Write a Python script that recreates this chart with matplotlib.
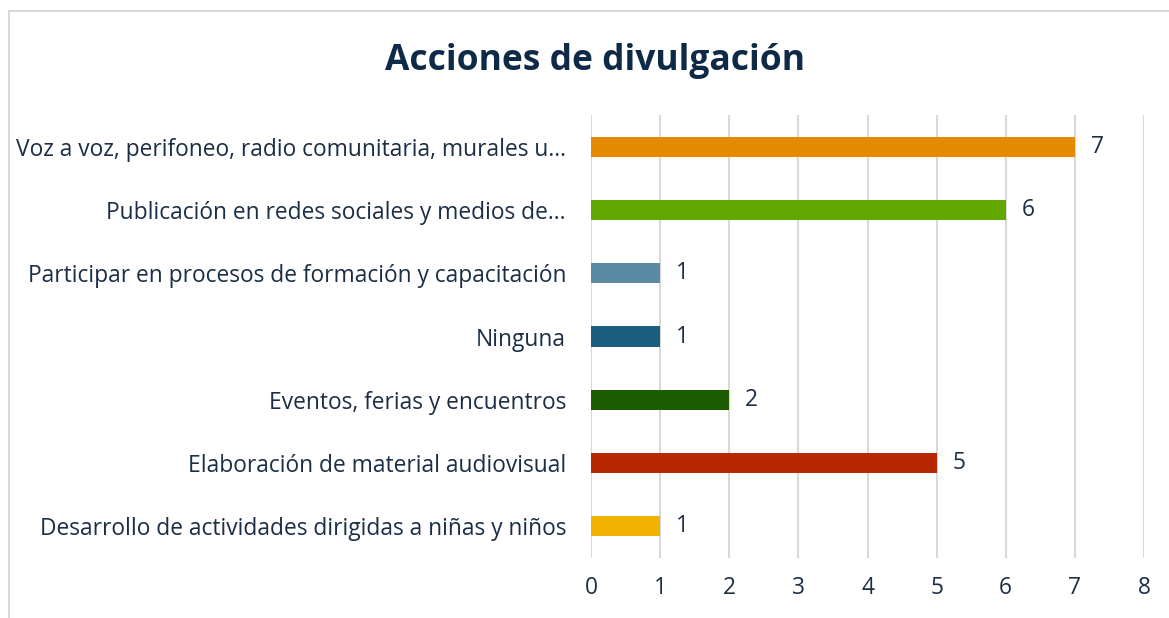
import matplotlib
matplotlib.use("Agg")
import matplotlib.pyplot as plt
from matplotlib.patches import Rectangle

categories = [
    "Voz a voz, perifoneo, radio comunitaria, murales u...",
    "Publicación en redes sociales y medios de...",
    "Participar en procesos de formación y capacitación",
    "Ninguna",
    "Eventos, ferias y encuentros",
    "Elaboración de material audiovisual",
    "Desarrollo de actividades dirigidas a niñas y niños",
]
values = [7, 6, 1, 1, 2, 5, 1]
colors = ["#E38A00", "#62A800", "#5B8BA3", "#1B5E80", "#1D5B00", "#B82800", "#F2B200"]
xticks = [0, 1, 2, 3, 4, 5, 6, 7, 8]
title = "Acciones de divulgación"

plt.rcParams['font.family'] = ['Open Sans', 'DejaVu Sans']
text_color = "#1B2E45"
fs = 16.4

fig = plt.figure(figsize=(11.69, 6.18), dpi=100)
fig.patch.set_facecolor("white")
fig.add_artist(Rectangle((9/1169, -0.05), 1.2, 1 - 11/618 + 0.05,
                         transform=fig.transFigure, facecolor="none",
                         edgecolor="#D9D9D9", linewidth=1.5))

ax = fig.add_axes([591/1169, 1 - 558/618, (1144 - 591)/1169, (558 - 115)/618])
y = list(range(len(categories)))
ax.barh(y, values, height=0.32, color=colors, zorder=3)
ax.set_ylim(len(categories) - 0.5, -0.5)
ax.set_xlim(0, 8)
ax.set_xticks(xticks)
ax.set_xticklabels([str(t) for t in xticks])
ax.set_yticks(y)
ax.set_yticklabels(categories)
ax.tick_params(axis='both', length=0, labelsize=fs, colors=text_color)
ax.tick_params(axis='x', pad=13)
ax.tick_params(axis='y', pad=18)
for s in ax.spines.values():
    s.set_visible(False)
ax.grid(axis='x', color="#D9D9D9", linewidth=1.5, zorder=0)
ax.set_axisbelow(True)

for i, v in enumerate(values):
    ax.text(v + 0.23, i, str(v), va='center', ha='left', fontsize=fs, color=text_color)

fig.text(595/1169, 1 - 61/618, title, ha='center', va='center',
         fontsize=25.5, fontweight='bold', color="#0F2A47")

fig.savefig("out.png", dpi=100, facecolor="white")
